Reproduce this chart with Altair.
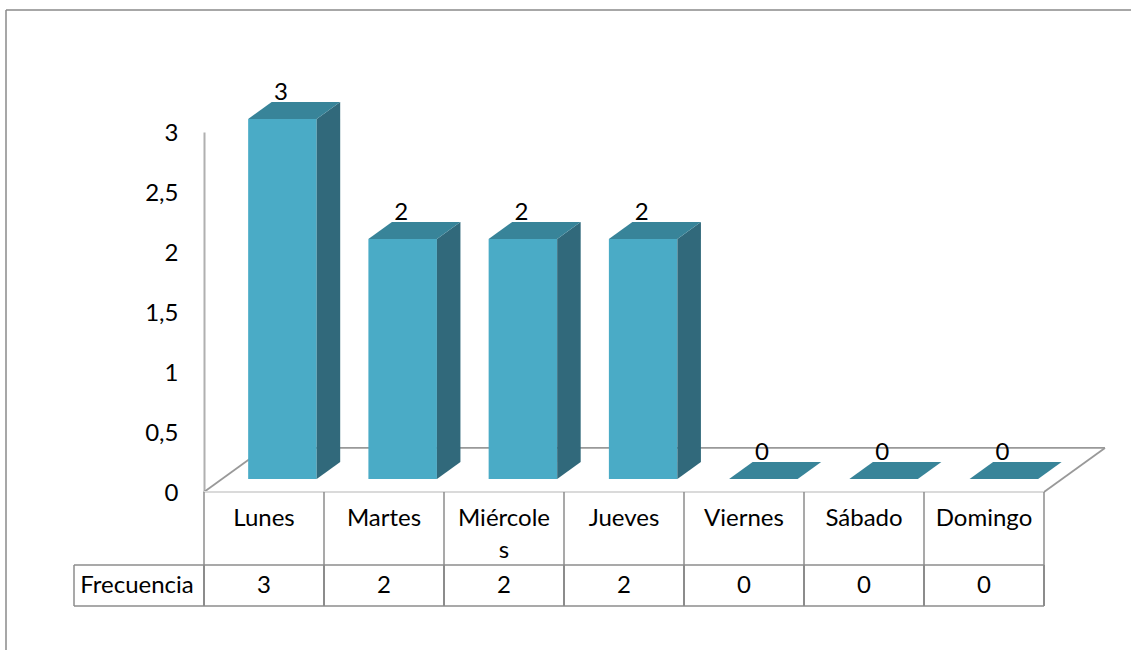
import altair as alt
import pandas as pd

# Chart values
days = ["Lunes", "Martes", "Miércoles", "Jueves", "Viernes", "Sábado", "Domingo"]
day_labels = ["Lunes", "Martes", "Miércole\ns", "Jueves", "Viernes", "Sábado", "Domingo"]
frequency = [3, 2, 2, 2, 0, 0, 0]
y_ticks = [0, 0.5, 1, 1.5, 2, 2.5, 3]
row_title = "Frecuencia"

FONT = "Lato"
FONT_SIZE = 24
FRONT, TOP, SIDE = "#4AABC6", "#388499", "#31697B"
LINE = "#8C8C8C"
SOFT = "#B0B0B0"

# One x unit is a category, one y unit is a value; the 3D look is expressed in those units.
BAR_LEFT, BAR_W = 0.368, 0.571
DEPTH_X, DEPTH_Y = 0.196, 0.142
LIFT = 0.108
FLOOR_X, FLOOR_Y = 0.508, 0.367
X_PX, Y_PX = 120.0, 120.0
ROW1, ROW2 = -73 / Y_PX, -114 / Y_PX

front, top, side = [], [], []
for i, (day, v) in enumerate(zip(days, frequency)):
    x0 = i * 1.002 + BAR_LEFT
    x1 = x0 + BAR_W
    y0 = v + LIFT
    front.append(dict(day=day, x=x0, x2=x1, y=LIFT, y2=y0))
    for x, lo, hi in [
        (x0, y0, y0),
        (x0 + DEPTH_X, y0, y0 + DEPTH_Y),
        (x1, y0, y0 + DEPTH_Y),
        (x1 + DEPTH_X, y0 + DEPTH_Y, y0 + DEPTH_Y),
    ]:
        top.append(dict(day=day, x=x, lo=lo, hi=hi))
    side.append(dict(day=day, x=x1, lo=LIFT, hi=y0))
    side.append(dict(day=day, x=x1 + DEPTH_X, lo=LIFT + DEPTH_Y, hi=y0 + DEPTH_Y))

n = len(days)
x_scale = alt.Scale(domain=[0, n], nice=False, zero=False)
y_scale = alt.Scale(domain=[0, 3], nice=False, zero=False)
X = alt.X("x:Q", scale=x_scale, axis=None)
Y = alt.Y("y:Q", scale=y_scale, axis=None)


def segments(rows, color, width):
    """Straight lines between (x, y) and (x2, y2) in chart units."""
    return (
        alt.Chart(pd.DataFrame(rows, columns=["x", "y", "x2", "y2"]))
        .mark_rule(color=color, strokeWidth=width)
        .encode(x=X, x2="x2:Q", y=Y, y2="y2:Q")
    )


# Outer frame: only the top and left edges fall inside the page
frame = segments(
    [(-198 / X_PX, 482 / Y_PX, 927 / X_PX, 482 / Y_PX),
     (-198 / X_PX, 482 / Y_PX, -198 / X_PX, -158 / Y_PX)],
    "#8A8A8A", 1.5,
)

# Floor of the 3D scene
floor_back = segments(
    [(0, 0, FLOOR_X, FLOOR_Y),
     (FLOOR_X, FLOOR_Y, n + FLOOR_X, FLOOR_Y),
     (n, 0, n + FLOOR_X, FLOOR_Y)],
    "#999999", 1.8,
)
floor_front = segments([(0, 0, n, 0)], "#DADADA", 2)

# Data table under the plot
table_upper = segments([(i, 0, i, ROW1) for i in range(n + 1)], LINE, 1.5)
table_lower = segments([(i, ROW1, i, ROW2) for i in range(n + 1)], LINE, 2)
table_left = segments([(-130 / X_PX, ROW1, -130 / X_PX, ROW2)], LINE, 1.5)
table_rows = segments(
    [(-130 / X_PX, ROW1, n, ROW1), (-130 / X_PX, ROW2, n, ROW2)], LINE, 1.5
)

# Value axis
axis_chart = (
    alt.Chart(pd.DataFrame({"y": y_ticks}))
    .mark_point(opacity=0)
    .encode(
        y=alt.Y(
            "y:Q",
            scale=y_scale,
            axis=alt.Axis(
                values=y_ticks,
                title=None,
                grid=False,
                ticks=False,
                labelFont=FONT,
                labelFontSize=FONT_SIZE,
                labelColor="#000000",
                labelPadding=26,
                labelOffset=1,
                domainColor=SOFT,
                domainWidth=2,
                labelExpr="replace(format(datum.value, ''), '.', ',')",
            ),
        )
    )
)

# Bars: front, top and side faces
front_faces = (
    alt.Chart(pd.DataFrame(front))
    .mark_rect(color=FRONT)
    .encode(x=X, x2="x2:Q", y=Y, y2="y2:Q")
)
top_faces = (
    alt.Chart(pd.DataFrame(top))
    .mark_area(color=TOP, interpolate="linear")
    .encode(
        x=X,
        y=alt.Y("lo:Q", scale=y_scale, axis=None, stack=None),
        y2="hi:Q",
        detail="day:N",
    )
)
side_faces = (
    alt.Chart(pd.DataFrame(side))
    .mark_area(color=SIDE, interpolate="linear")
    .encode(
        x=X,
        y=alt.Y("lo:Q", scale=y_scale, axis=None, stack=None),
        y2="hi:Q",
        detail="day:N",
    )
)

# Value labels above the bars
bar_labels = pd.DataFrame(
    {
        "x": [i * 1.002 + BAR_LEFT + BAR_W / 2 - 1.5 / X_PX for i in range(n)],
        "y": [v + 32.5 / Y_PX for v in frequency],
        "label": [str(v) for v in frequency],
    }
)
value_text = (
    alt.Chart(bar_labels)
    .mark_text(font=FONT, fontSize=FONT_SIZE, color="#000000", baseline="alphabetic", align="center")
    .encode(x=X, y=Y, text="label:N")
)

# Table contents
cells = pd.DataFrame(
    {
        "x": [i + 0.5 for i in range(n)],
        "name": day_labels,
        "freq": [str(v) for v in frequency],
        "y_name": [-34 / Y_PX] * n,
        "y_freq": [-101 / Y_PX] * n,
    }
)
name_text = (
    alt.Chart(cells)
    .mark_text(font=FONT, fontSize=FONT_SIZE, color="#000000", baseline="alphabetic",
               align="center", lineBreak="\n", lineHeight=32)
    .encode(x=X, y=alt.Y("y_name:Q", scale=y_scale, axis=None), text="name:N")
)
freq_text = (
    alt.Chart(cells)
    .mark_text(font=FONT, fontSize=FONT_SIZE, color="#000000", baseline="alphabetic", align="center")
    .encode(x=X, y=alt.Y("y_freq:Q", scale=y_scale, axis=None), text="freq:N")
)
row_text = (
    alt.Chart(pd.DataFrame({"x": [-67 / X_PX], "y": [-101 / Y_PX], "label": [row_title]}))
    .mark_text(font=FONT, fontSize=FONT_SIZE, color="#000000", baseline="alphabetic", align="center")
    .encode(x=X, y=Y, text="label:N")
)

chart = (
    alt.layer(
        axis_chart, frame, floor_back, floor_front,
        table_upper, table_lower, table_left, table_rows,
        front_faces, side_faces, top_faces,
        value_text, name_text, freq_text, row_text,
    )
    .resolve_scale(x="shared", y="shared")
    .resolve_axis(y="independent")
    .properties(
        width=840,
        height=360,
        padding={"left": 204, "top": 132, "right": 87, "bottom": 158},
        autosize=alt.AutoSizeParams(type="none"),
        background="#FFFFFF",
    )
    .configure_view(stroke=None)
)

chart.save("out.html", embed_options={"renderer": "svg", "actions": False})
